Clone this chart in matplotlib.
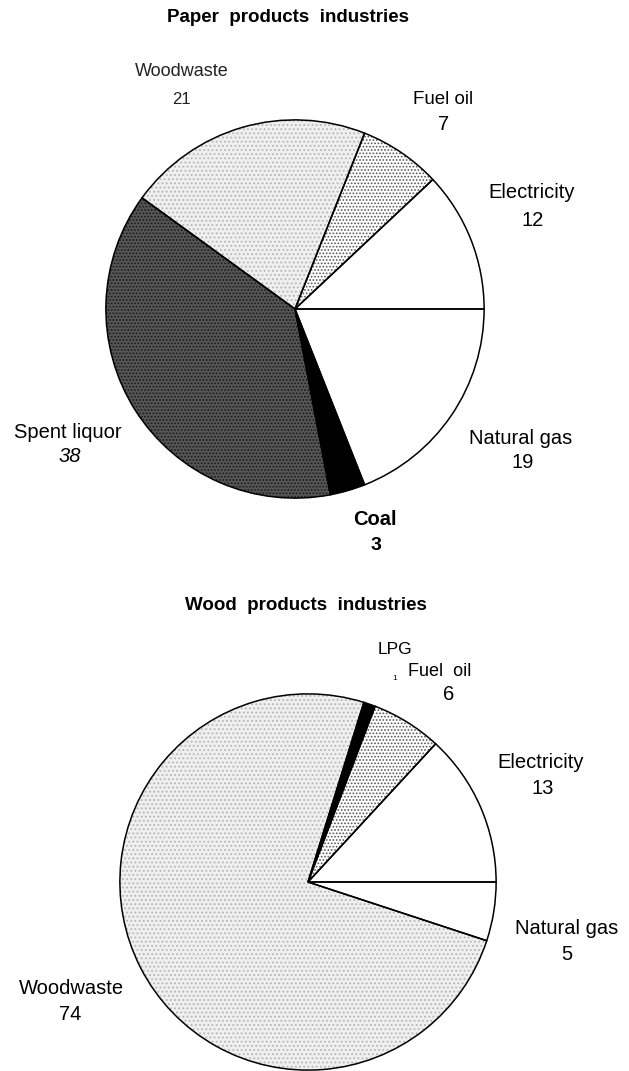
import matplotlib
matplotlib.use("Agg")
import matplotlib.pyplot as plt

plt.rcParams['font.family'] = ['Liberation Sans', 'DejaVu Sans']
plt.rcParams['hatch.linewidth'] = 0.8

# Paper products industries (percent of energy use)
paper_title = "Paper  products  industries"
paper_labels = ['Electricity', 'Fuel oil', 'Woodwaste', 'Spent liquor', 'Coal', 'Natural gas']
paper_values = [12, 7, 21, 38, 3, 19]

# Wood products industries
wood_title = "Wood  products  industries"
wood_labels = ['Electricity', 'Fuel oil', 'LPG', 'Woodwaste', 'Natural gas']
wood_values = [13, 6, 1, 74, 5]

# fill styles per fuel: (face, hatch, hatch colour)
styles = {
    'Electricity': ('white', None, 'white'),
    'Natural gas': ('white', None, 'white'),
    'Fuel oil': ('#ffffff', '.....', '#555555'),
    'Woodwaste': ('#efefef', '....', '#b5b5b5'),
    'Spent liquor': ('#555555', '.....', '#1a1a1a'),
    'Coal': ('black', None, 'black'),
    'LPG': ('black', None, 'black'),
}

W, H = 629, 1071
fig = plt.figure(figsize=(W / 100, H / 100), dpi=100)


def px(x, y):
    return x / W, 1 - y / H


def draw_pie(cx, cy, r, labels, values):
    ax = fig.add_axes([(cx - r) / W, 1 - (cy + r) / H, 2 * r / W, 2 * r / H])
    wedges, _ = ax.pie(values, startangle=0, counterclock=True, radius=1,
                       wedgeprops=dict(linewidth=0))
    for w, lab in zip(wedges, labels):
        face, hatch, hc = styles[lab]
        w.set_facecolor(face)
        w.set_edgecolor(hc)
        if hatch:
            w.set_hatch(hatch)
    # outlines on top
    ax.pie(values, startangle=0, counterclock=True, radius=1,
           wedgeprops=dict(fill=False, edgecolor='black', linewidth=1.1))
    ax.set_xlim(-1.01, 1.01)
    ax.set_ylim(-1.01, 1.01)
    ax.set_aspect('equal')
    ax.set_axis_off()


draw_pie(295, 309, 191, paper_labels, paper_values)
draw_pie(308, 882, 190, wood_labels, wood_values)

# titles
fig.text(*px(288, 18), paper_title, ha='center', va='center', fontsize=13.5, fontweight='bold')
fig.text(*px(306, 605), wood_title, ha='center', va='center', fontsize=13.5, fontweight='bold')

# top pie labels
pv = dict(zip(paper_labels, paper_values))
fig.text(*px(182, 71), 'Woodwaste', ha='center', va='center', fontsize=13, color='#222222')
fig.text(*px(181, 99), str(pv['Woodwaste']), ha='center', va='center', fontsize=12, color='#222222')
fig.text(*px(443, 99), 'Fuel oil', ha='center', va='center', fontsize=13.5)
fig.text(*px(444, 124), str(pv['Fuel oil']), ha='center', va='center', fontsize=14.5)
fig.text(*px(532, 193), 'Electricity', ha='center', va='center', fontsize=14.5)
fig.text(*px(533, 221), str(pv['Electricity']), ha='center', va='center', fontsize=14.5)
fig.text(*px(521, 439), 'Natural gas', ha='center', va='center', fontsize=14.5)
fig.text(*px(523, 463), str(pv['Natural gas']), ha='center', va='center', fontsize=14.5)
fig.text(*px(68, 433), 'Spent liquor', ha='center', va='center', fontsize=14.5)
fig.text(*px(70, 457), str(pv['Spent liquor']), ha='center', va='center', fontsize=14.5,
         style='italic')
fig.text(*px(375, 519), 'Coal', ha='center', va='center', fontsize=14.5, fontweight='bold')
fig.text(*px(376, 545), str(pv['Coal']), ha='center', va='center', fontsize=14,
         fontweight='bold')

# bottom pie labels
wv = dict(zip(wood_labels, wood_values))
fig.text(*px(395, 650), 'LPG', ha='center', va='center', fontsize=12.5)
fig.text(*px(395, 678), str(wv['LPG']), ha='center', va='center', fontsize=6)
fig.text(*px(440, 671), 'Fuel  oil', ha='center', va='center', fontsize=13)
fig.text(*px(449, 695), str(wv['Fuel oil']), ha='center', va='center', fontsize=14.5)
fig.text(*px(541, 762), 'Electricity', ha='center', va='center', fontsize=14.5)
fig.text(*px(543, 788), str(wv['Electricity']), ha='center', va='center', fontsize=14.5)
fig.text(*px(567, 928), 'Natural gas', ha='center', va='center', fontsize=14.5)
fig.text(*px(567, 954), str(wv['Natural gas']), ha='center', va='center', fontsize=14.5)
fig.text(*px(71, 989), 'Woodwaste', ha='center', va='center', fontsize=14.5)
fig.text(*px(70, 1015), str(wv['Woodwaste']), ha='center', va='center', fontsize=14.5)

fig.savefig('out.png', dpi=100, facecolor='white')
